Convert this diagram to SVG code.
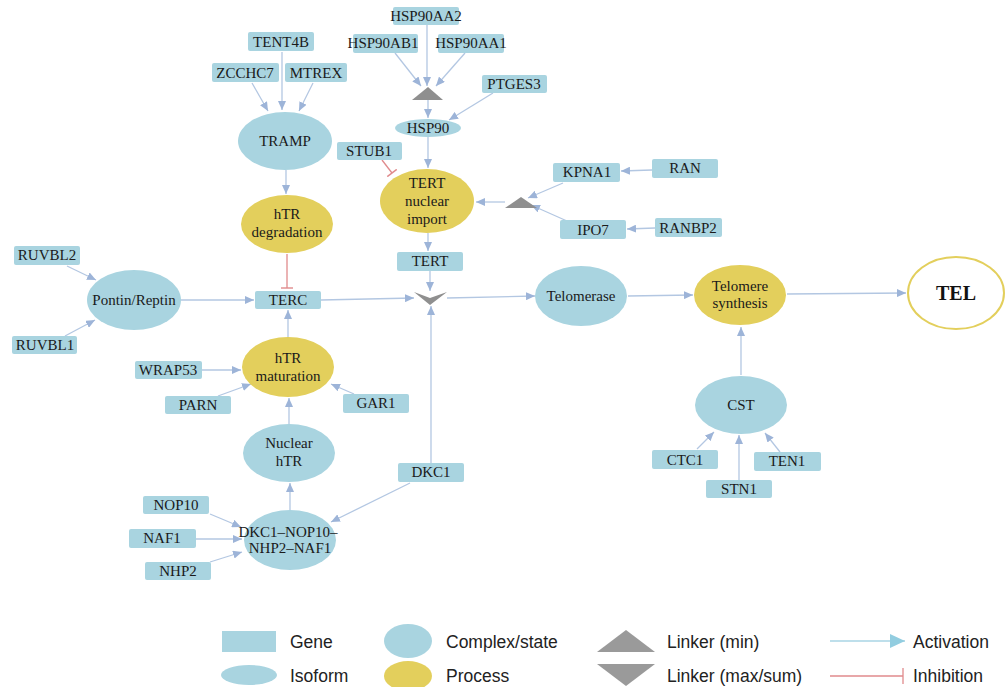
<svg xmlns="http://www.w3.org/2000/svg" width="1006" height="687" viewBox="0 0 1006 687">
<defs>
<marker id="arr" markerUnits="userSpaceOnUse" markerWidth="10" markerHeight="8" refX="9" refY="4" orient="auto"><path d="M0,0 L9,4 L0,8 Z" fill="#9db4d8"/></marker>
<marker id="bar" markerUnits="userSpaceOnUse" markerWidth="4" markerHeight="12" refX="2" refY="6" orient="auto"><path d="M2,0 L2,12" stroke="#e08a8c" stroke-width="1.4"/></marker>
<marker id="larr" markerUnits="userSpaceOnUse" markerWidth="16" markerHeight="14" refX="15" refY="7" orient="auto"><path d="M0,0 L15,7 L0,14 Z" fill="#92cde0"/></marker>
</defs>
<style>
.g rect{fill:#a9d4e0;}
.n text,.g text{font-family:"Liberation Serif","Times New Roman",serif;font-size:15px;fill:#1a1a1a;text-anchor:middle;}
.cx{fill:#a9d4e0;}
.pr{fill:#e3cf5c;}
.lk{fill:#8f8f8f;}
.e line,.e path{stroke:#b3c7e2;stroke-width:1.3;fill:none;marker-end:url(#arr);}
.e .inh{stroke:#e08a8c;marker-end:url(#bar);}
.lg text{font-family:"Liberation Sans",Arial,sans-serif;font-size:17.5px;fill:#222;}
</style>
<rect width="1006" height="687" fill="#ffffff"/>

<g class="e" id="connectors">
<line x1="252" y1="83" x2="268" y2="111"/>
<line x1="282" y1="52" x2="282" y2="110"/>
<line x1="313" y1="83" x2="299" y2="111"/>
<line x1="286" y1="170" x2="286" y2="194"/>
<line class="inh" x1="287" y1="254" x2="287" y2="288"/>
<line x1="395" y1="53" x2="421" y2="86"/>
<line x1="427" y1="25" x2="427" y2="86"/>
<line x1="465" y1="53" x2="436" y2="86"/>
<line x1="428" y1="100" x2="428" y2="118"/>
<line x1="493" y1="93" x2="449" y2="120"/>
<line x1="428" y1="137" x2="428" y2="168"/>
<line class="inh" x1="382" y1="160" x2="392" y2="173"/>
<line x1="652" y1="170" x2="621" y2="171"/>
<line x1="563" y1="183" x2="528" y2="198"/>
<line x1="567" y1="221" x2="531" y2="205"/>
<line x1="655" y1="228" x2="627" y2="229"/>
<line x1="505" y1="202" x2="476" y2="202"/>
<line x1="428" y1="233" x2="428" y2="251"/>
<line x1="430" y1="271" x2="430" y2="291"/>
<line x1="321" y1="300" x2="414" y2="298"/>
<line x1="431" y1="463" x2="431" y2="306"/>
<line x1="447" y1="298" x2="535" y2="296"/>
<line x1="628" y1="296" x2="693" y2="295"/>
<line x1="787" y1="294" x2="906" y2="293"/>
<line x1="741" y1="375" x2="741" y2="327"/>
<line x1="697" y1="449" x2="714" y2="432"/>
<line x1="739" y1="480" x2="739" y2="435"/>
<line x1="780" y1="452" x2="765" y2="433"/>
<line x1="67" y1="266" x2="96" y2="280"/>
<line x1="65" y1="336" x2="95" y2="320"/>
<line x1="181" y1="300" x2="254" y2="300"/>
<line x1="288" y1="337" x2="288" y2="310"/>
<line x1="202" y1="370" x2="241" y2="370"/>
<line x1="218" y1="396" x2="251" y2="384"/>
<line x1="354" y1="394" x2="331" y2="384"/>
<line x1="289" y1="425" x2="289" y2="398"/>
<line x1="290" y1="510" x2="290" y2="483"/>
<line x1="410" y1="483" x2="331" y2="522"/>
<line x1="210" y1="514" x2="241" y2="527"/>
<line x1="196" y1="539" x2="242" y2="539"/>
<line x1="210" y1="562" x2="242" y2="552"/>
</g>

<g class="g" id="TENT4B"><rect x="248" y="32" width="66" height="19" rx="2"/><text x="281" y="47">TENT4B</text></g>
<g class="g" id="ZCCHC7"><rect x="212" y="63" width="67" height="19" rx="2"/><text x="245" y="78">ZCCHC7</text></g>
<g class="g" id="MTREX"><rect x="285" y="63" width="62" height="19" rx="2"/><text x="316" y="78">MTREX</text></g>
<g class="n" id="TRAMP"><ellipse class="cx" cx="285" cy="141" rx="47" ry="29"/><text x="285" y="146">TRAMP</text></g>
<g class="n" id="hTRdeg"><ellipse class="pr" cx="287" cy="224" rx="46" ry="29"/><text x="287" y="219">hTR</text><text x="287" y="237">degradation</text></g>

<g class="g" id="HSP90AA2"><rect x="393" y="7" width="66" height="18" rx="2"/><text x="426" y="21">HSP90AA2</text></g>
<g class="g" id="HSP90AB1"><rect x="353" y="34" width="65" height="19" rx="2"/><text x="383" y="48">HSP90AB1</text></g>
<g class="g" id="HSP90AA1"><rect x="438" y="34" width="66" height="19" rx="2"/><text x="471" y="48">HSP90AA1</text></g>
<g class="n" id="linkerHSP"><polygon class="lk" points="412,100 428,87 443,100"/></g>
<g class="g" id="PTGES3"><rect x="482" y="75" width="65" height="18" rx="2"/><text x="514" y="89">PTGES3</text></g>
<g class="n" id="HSP90"><ellipse class="cx" cx="428" cy="128" rx="33" ry="9"/><text x="428" y="133">HSP90</text></g>
<g class="g" id="STUB1"><rect x="337" y="142" width="65" height="18" rx="2"/><text x="369" y="156">STUB1</text></g>
<g class="n" id="TERTimport"><ellipse class="pr" cx="427" cy="201" rx="47" ry="32"/><text x="427" y="188">TERT</text><text x="427" y="206">nuclear</text><text x="427" y="224">import</text></g>
<g class="g" id="KPNA1"><rect x="553" y="163" width="67" height="19" rx="2"/><text x="587" y="177">KPNA1</text></g>
<g class="g" id="RAN"><rect x="652" y="159" width="66" height="19" rx="2"/><text x="685" y="173">RAN</text></g>
<g class="n" id="linkerImp"><polygon class="lk" points="505,208 521,197 537,208"/></g>
<g class="g" id="IPO7"><rect x="560" y="220" width="66" height="19" rx="2"/><text x="593" y="235">IPO7</text></g>
<g class="g" id="RANBP2"><rect x="655" y="218" width="67" height="19" rx="2"/><text x="688" y="233">RANBP2</text></g>
<g class="g" id="TERT"><rect x="397" y="252" width="66" height="19" rx="2"/><text x="430" y="266">TERT</text></g>
<g class="n" id="linkerMax"><polygon class="lk" points="414,292 430,298 447,292 430,305"/></g>

<g class="g" id="TERC"><rect x="255" y="291" width="66" height="18" rx="2"/><text x="288" y="305">TERC</text></g>
<g class="n" id="Pontin"><ellipse class="cx" cx="134" cy="300" rx="47" ry="30"/><text x="134" y="305">Pontin/Reptin</text></g>
<g class="g" id="RUVBL2"><rect x="14" y="246" width="66" height="19" rx="2"/><text x="47" y="260">RUVBL2</text></g>
<g class="g" id="RUVBL1"><rect x="12" y="336" width="65" height="18" rx="2"/><text x="45" y="350">RUVBL1</text></g>
<g class="n" id="hTRmat"><ellipse class="pr" cx="288" cy="367" rx="46" ry="30"/><text x="288" y="363">hTR</text><text x="288" y="381">maturation</text></g>
<g class="g" id="WRAP53"><rect x="135" y="361" width="67" height="18" rx="2"/><text x="168" y="375">WRAP53</text></g>
<g class="g" id="PARN"><rect x="165" y="396" width="66" height="18" rx="2"/><text x="198" y="410">PARN</text></g>
<g class="g" id="GAR1"><rect x="343" y="394" width="66" height="19" rx="2"/><text x="376" y="408">GAR1</text></g>
<g class="n" id="NuclearhTR"><ellipse class="cx" cx="289" cy="453" rx="46" ry="29"/><text x="289" y="448">Nuclear</text><text x="289" y="466">hTR</text></g>
<g class="g" id="DKC1"><rect x="398" y="463" width="66" height="19" rx="2"/><text x="431" y="477">DKC1</text></g>
<g class="n" id="DKC1complex"><ellipse class="cx" cx="290" cy="540" rx="46" ry="30"/><text x="288" y="537">DKC1–NOP10–</text><text x="290" y="553">NHP2–NAF1</text></g>
<g class="g" id="NOP10"><rect x="143" y="496" width="66" height="18" rx="2"/><text x="176" y="510">NOP10</text></g>
<g class="g" id="NAF1"><rect x="129" y="529" width="67" height="19" rx="2"/><text x="162" y="543">NAF1</text></g>
<g class="g" id="NHP2"><rect x="145" y="562" width="66" height="18" rx="2"/><text x="178" y="576">NHP2</text></g>

<g class="n" id="Telomerase"><ellipse class="cx" cx="581" cy="296" rx="46" ry="30"/><text x="581" y="301">Telomerase</text></g>
<g class="n" id="TelSynth"><ellipse class="pr" cx="740" cy="295" rx="46" ry="30"/><text x="740" y="291">Telomere</text><text x="740" y="308">synthesis</text></g>
<g class="n" id="TEL"><ellipse cx="956" cy="293" rx="48" ry="36" fill="#ffffff" stroke="#e3cf5c" stroke-width="2"/><text x="956" y="300" style="font-size:20px;font-weight:bold;fill:#111">TEL</text></g>
<g class="n" id="CST"><ellipse class="cx" cx="741" cy="405" rx="46" ry="29"/><text x="741" y="410">CST</text></g>
<g class="g" id="CTC1"><rect x="652" y="450" width="66" height="19" rx="2"/><text x="685" y="465">CTC1</text></g>
<g class="g" id="TEN1"><rect x="754" y="452" width="67" height="19" rx="2"/><text x="787" y="466">TEN1</text></g>
<g class="g" id="STN1"><rect x="706" y="480" width="66" height="18" rx="2"/><text x="739" y="494">STN1</text></g>

<g class="lg" id="legend">
<rect x="222" y="631" width="54" height="21" fill="#a9d4e0"/>
<text x="290" y="648">Gene</text>
<ellipse cx="249" cy="675" rx="28" ry="10" fill="#a9d4e0"/>
<text x="290" y="682">Isoform</text>
<ellipse cx="408" cy="641" rx="24" ry="17" fill="#a9d4e0"/>
<text x="446" y="648">Complex/state</text>
<ellipse cx="408" cy="676" rx="24" ry="15" fill="#e3cf5c"/>
<text x="446" y="682">Process</text>
<polygon points="597,652 626,630 655,652" fill="#9a9a9a"/>
<text x="667" y="648">Linker (min)</text>
<polygon points="597,664 626,686 655,664" fill="#9a9a9a"/>
<text x="667" y="682">Linker (max/sum)</text>
<line x1="830" y1="641" x2="905" y2="641" stroke="#a9d5e5" stroke-width="1.3" marker-end="url(#larr)"/>
<text x="913" y="648">Activation</text>
<line x1="830" y1="676" x2="903" y2="676" stroke="#e08a8c" stroke-width="1.3"/>
<line x1="903" y1="668" x2="903" y2="684" stroke="#e08a8c" stroke-width="1.3"/>
<text x="913" y="682">Inhibition</text>
</g>
</svg>
